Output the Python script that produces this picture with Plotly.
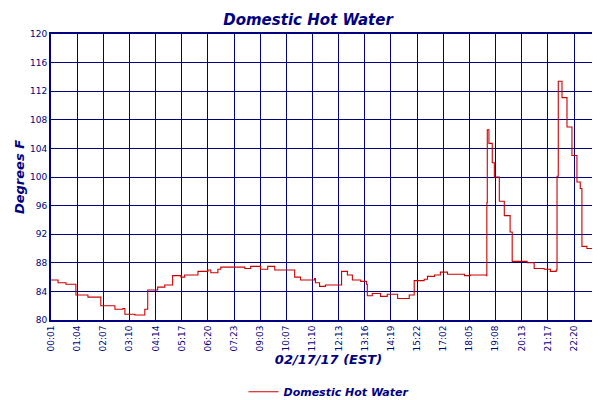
import plotly.graph_objects as go

# sample index (one tick interval = 63 samples) and temperature
sample = [0, 17, 36, 60, 89, 120, 154, 173, 178, 202, 226, 233, 257, 274, 293, 313, 322, 346,
          354, 378, 385, 402, 409, 467, 481, 505, 522, 539, 577, 587, 601, 635, 637, 647, 661,
          697, 700, 714, 726, 746, 760, 762, 774, 794, 810, 835, 863, 875, 899, 907, 924, 938,
          955, 996, 1010, 1049, 1050, 1051, 1055, 1063, 1068, 1080, 1092, 1106, 1111, 1147,
          1164, 1188, 1203, 1217, 1219, 1222, 1231, 1243, 1255, 1267, 1275, 1279, 1291, 1308,
          1323, 1337]
temp = [85.6, 85.2, 85.0, 83.5, 83.2, 82.0, 81.5, 81.6, 80.8, 80.7, 81.5, 84.2, 84.6, 84.9,
        86.2, 86.0, 86.3, 86.3, 86.8, 87.0, 86.6, 87.1, 87.4, 87.2, 87.5, 87.1, 87.5, 87.0,
        87.0, 86.0, 85.6, 85.8, 85.2, 84.7, 84.9, 84.9, 86.8, 86.3, 85.6, 85.4, 85.0, 83.4,
        83.7, 83.3, 83.6, 83.0, 83.5, 85.5, 85.7, 86.1, 86.3, 86.7, 86.4, 86.2, 86.3, 86.2,
        96.4, 106.6, 104.7, 102.0, 100.0, 96.6, 94.6, 92.3, 88.2, 88.0, 87.2, 87.1, 86.8,
        87.0, 100.1, 113.4, 111.1, 107.0, 103.0, 99.3, 98.4, 90.3, 90.0, 89.0, 88.8, 88.0]

tick_pos = [0, 63, 126, 189, 252, 315, 378, 441, 504, 567, 630, 693, 756, 819, 882, 945,
            1008, 1071, 1134, 1197, 1260, 1330, 1335]
tick_text = ["00:01", "01:04", "02:07", "03:10", "04:14", "05:17", "06:20", "07:23", "09:03",
             "10:07", "11:10", "12:13", "13:16", "14:19", "15:22", "17:02", "18:05", "19:08",
             "20:13", "21:17", "22:20", "22:28", "22:29"]

navy = "#000080"
font_i = dict(family="DejaVu Sans", color=navy)

fig = go.Figure(go.Scatter(
    x=sample, y=temp, mode="lines", line_shape="hv",
    line=dict(color="#cc0000", width=1.1), name="<i><b>Domestic Hot Water</b></i>",
))

fig.update_layout(
    width=600, height=400,
    paper_bgcolor="white", plot_bgcolor="white",
    margin=dict(l=43, r=2, t=26, b=76),
    title=dict(text="<b><i>Domestic Hot Water</i></b>", x=0.5, xanchor="center", y=0.985,
               yanchor="top", font=dict(size=15, **font_i)),
    showlegend=True,
    legend=dict(orientation="h", x=0.5, xanchor="center", y=-0.2, yanchor="top",
                font=dict(size=11, **font_i)),
    xaxis=dict(range=[0, 1337], tickvals=tick_pos, ticktext=tick_text, tickangle=-90,
               automargin=False,
               showgrid=True, gridcolor=navy, gridwidth=1, zeroline=False,
               showline=True, linecolor=navy, linewidth=2, mirror=True,
               tickfont=dict(size=9, family="DejaVu Sans", color=navy),
               title=dict(text="<i><b>02/17/17 (EST)</b></i>", font=dict(size=13, **font_i),
                          standoff=2)),
    yaxis=dict(range=[80, 120], dtick=4, showgrid=True, gridcolor=navy, gridwidth=1,
               automargin=False,
               zeroline=False, showline=True, linecolor=navy, linewidth=2, mirror=True,
               tickfont=dict(size=9, family="DejaVu Sans", color=navy),
               title=dict(text="<i><b>Degrees F</b></i>", font=dict(size=13, **font_i),
                          standoff=2)),
)

fig.write_html("out.html")
